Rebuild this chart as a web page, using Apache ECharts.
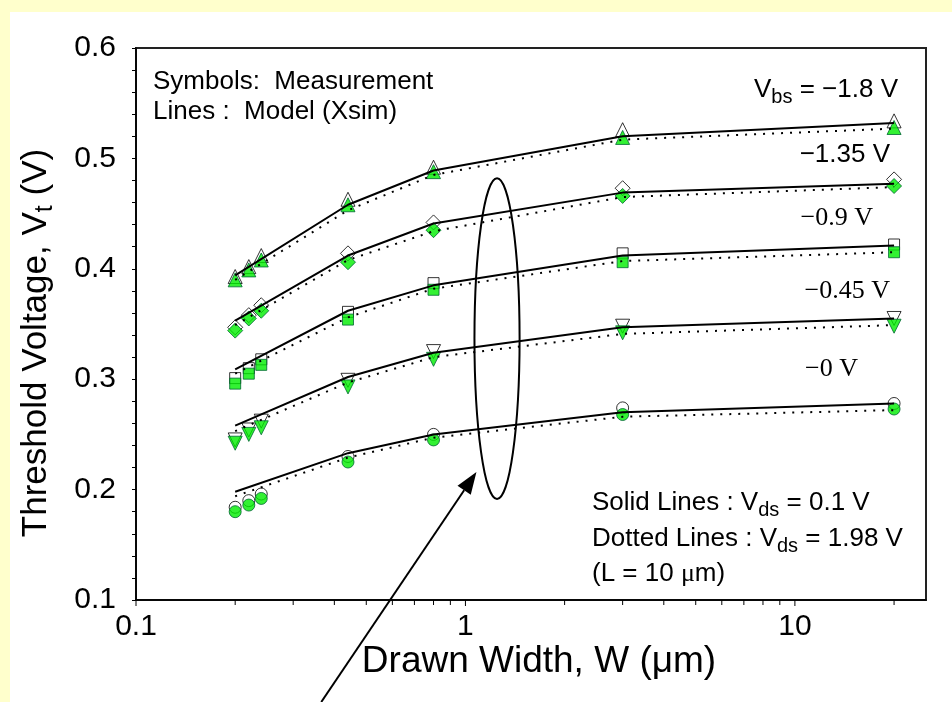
<!DOCTYPE html>
<html><head><meta charset="utf-8">
<script src="https://cdn.jsdelivr.net/npm/echarts@6/dist/echarts.min.js"></script>
<style>html,body{margin:0;padding:0;background:#FFFFCC}#c{width:952px;height:702px}</style>
</head><body><div id="c"></div>
<script>
// ---- data ----
const widths = [0.2, 0.22, 0.24, 0.44, 0.8, 3, 20];
const modelWidths = [0.2, 0.44, 0.8, 3, 20];
const xMajorTicks = [0.1, 1, 10];
const xMinorTicks = [0.2, 0.3, 0.4, 0.5, 0.6, 0.7, 0.8, 0.9, 2, 3, 4, 5, 6, 7, 8, 9, 20];
const yTicks = [0.1, 0.2, 0.3, 0.4, 0.5, 0.6];

// measured Vt, Vds = 0.1 V (open symbols)
const meas18Lo  = [0.393, 0.402, 0.412, 0.463, 0.492, 0.526, 0.534];
const meas135Lo = [0.347, 0.358, 0.367, 0.414, 0.442, 0.473, 0.481];
const meas09Lo  = [0.301, 0.310, 0.318, 0.361, 0.387, 0.414, 0.422];
const meas045Lo = [0.245, 0.254, 0.262, 0.299, 0.325, 0.348, 0.355];
const meas0Lo   = [0.184, 0.190, 0.196, 0.230, 0.250, 0.274, 0.278];
// measured Vt, Vds = 1.98 V (green symbols)
const meas18Hi  = [0.390, 0.399, 0.408, 0.458, 0.488, 0.519, 0.528];
const meas135Hi = [0.344, 0.355, 0.362, 0.406, 0.435, 0.466, 0.475];
const meas09Hi  = [0.296, 0.305, 0.313, 0.354, 0.381, 0.406, 0.415];
const meas045Hi = [0.242, 0.250, 0.256, 0.293, 0.318, 0.342, 0.348];
const meas0Hi   = [0.180, 0.186, 0.192, 0.225, 0.245, 0.268, 0.273];
// model (Xsim), solid: Vds = 0.1 V
const model18Lo  = [0.394, 0.458, 0.489, 0.520, 0.532];
const model135Lo = [0.353, 0.412, 0.441, 0.469, 0.477];
const model09Lo  = [0.309, 0.362, 0.385, 0.412, 0.421];
const model045Lo = [0.258, 0.302, 0.324, 0.347, 0.355];
const model0Lo   = [0.198, 0.233, 0.250, 0.270, 0.278];
// model (Xsim), dotted: Vds = 1.98 V
const model18Hi  = [0.390, 0.453, 0.485, 0.517, 0.527];
const model135Hi = [0.349, 0.408, 0.434, 0.465, 0.474];
const model09Hi  = [0.305, 0.356, 0.382, 0.407, 0.415];
const model045Hi = [0.253, 0.297, 0.320, 0.341, 0.349];
const model0Hi   = [0.194, 0.229, 0.247, 0.266, 0.272];

// annotation anchors in data units (W, Vt)
const ellipseBox = {wLeft: 1.065, wRight: 1.46, vTop: 0.482, vBottom: 0.1915};
const arrowTip = [1.08, 0.2159];
const arrowTail = [0.365, 0.0076];

// ---- chart ----
const SANS = '"Liberation Sans", Arial, sans-serif';
const SERIF = '"Liberation Serif", "Times New Roman", serif';
const GREEN = '#00EE00';
const pair = (xs, ys) => xs.map((x, i) => [x, ys[i]]);

const groups = [
  {lo: meas18Lo,  hi: meas18Hi,  mLo: model18Lo,  mHi: model18Hi,  symbol: 'triangle', size: 14, rot: 0},
  {lo: meas135Lo, hi: meas135Hi, mLo: model135Lo, mHi: model135Hi, symbol: 'diamond',  size: 15, rot: 0},
  {lo: meas09Lo,  hi: meas09Hi,  mLo: model09Lo,  mHi: model09Hi,  symbol: 'rect',     size: 11, rot: 0},
  {lo: meas045Lo, hi: meas045Hi, mLo: model045Lo, mHi: model045Hi, symbol: 'triangle', size: 14, rot: 180},
  {lo: meas0Lo,   hi: meas0Hi,   mLo: model0Lo,   mHi: model0Hi,   symbol: 'circle',   size: 12, rot: 0}
];

const series = [];
groups.forEach(g => {
  series.push({type: 'scatter', data: pair(widths, g.lo), symbol: g.symbol, symbolSize: g.size, symbolRotate: g.rot,
    itemStyle: {color: '#fff', borderColor: '#000', borderWidth: 1}, z: 2, silent: true});
});
groups.forEach(g => {
  series.push({type: 'scatter', data: pair(widths, g.hi), symbol: g.symbol, symbolSize: g.size, symbolRotate: g.rot,
    itemStyle: {color: GREEN, borderColor: '#063', borderWidth: 1}, z: 3, silent: true});
});
groups.forEach(g => {
  series.push({type: 'line', data: pair(modelWidths, g.mLo), showSymbol: false, symbol: 'none',
    lineStyle: {color: '#000', width: 2}, z: 4, silent: true});
  series.push({type: 'line', data: pair(modelWidths, g.mHi), showSymbol: false, symbol: 'none',
    lineStyle: {color: '#000', width: 2, type: [2, 7], cap: 'butt'}, z: 4, silent: true});
});
function tickSeries(vals, len) {
  return {type: 'custom', clip: false, silent: true, z: 5,
    data: vals.map(v => [v, yTicks[0]]),
    renderItem: (params, api) => {
      const p = api.coord([api.value(0), api.value(1)]);
      return {type: 'line', shape: {x1: p[0], y1: p[1], x2: p[0], y2: p[1] + len},
        style: {stroke: '#000', lineWidth: 1}};
    }};
}
series.push(tickSeries(xMajorTicks, 6));
series.push(tickSeries(xMinorTicks, 5));

const chart = echarts.init(document.getElementById('c'), null, {renderer: 'canvas'});
chart.setOption({
  animation: false,
  backgroundColor: '#FFFFCC',
  grid: {left: 136, top: 48, right: 26, bottom: 102, show: true, backgroundColor: '#fff', borderColor: '#222', borderWidth: 2},
  xAxis: {
    type: 'log', logBase: 10, min: 0.1, max: 25,
    axisLine: {lineStyle: {color: '#000', width: 1.5}},
    axisTick: {show: false}, minorTick: {show: false}, splitLine: {show: false},
    axisLabel: {color: '#000', fontSize: 30, fontFamily: SANS, margin: 12, showMaxLabel: false,
      formatter: v => String(v)}
  },
  yAxis: {
    type: 'value', min: 0.1, max: 0.6, interval: 0.1,
    axisLine: {lineStyle: {color: '#000', width: 1.5}},
    axisTick: {show: true, length: 4, lineStyle: {color: '#000'}},
    minorTick: {show: true, splitNumber: 5, length: 4, lineStyle: {color: '#000'}},
    splitLine: {show: false},
    axisLabel: {color: '#000', fontSize: 30, fontFamily: SANS, margin: 20, formatter: v => v.toFixed(1)}
  },
  series: series
});

function txt(x, y, text, opts) {
  return {type: 'text', x: x, y: y, z: 10, silent: true,
    style: Object.assign({text: text, fill: '#000', fontSize: 26, fontFamily: SANS, align: 'left', verticalAlign: 'middle'}, opts || {})};
}
const subRich = {
  n: {fontSize: 26, fontFamily: SANS, color: '#000', lineHeight: 34},
  s: {fontSize: 20, fontFamily: SANS, color: '#000', verticalAlign: 'bottom', lineHeight: 24},
  mu: {fontSize: 26, fontFamily: SERIF, color: '#000', lineHeight: 34}
};
const titleRich = {
  n: {fontSize: 35, fontFamily: SANS, color: '#000', lineHeight: 44},
  s: {fontSize: 25, fontFamily: SANS, color: '#000', verticalAlign: 'bottom', lineHeight: 29}
};

const pTL = chart.convertToPixel({gridIndex: 0}, [ellipseBox.wLeft, ellipseBox.vTop]);
const pBR = chart.convertToPixel({gridIndex: 0}, [ellipseBox.wRight, ellipseBox.vBottom]);
const tip = chart.convertToPixel({gridIndex: 0}, arrowTip);
const tail = chart.convertToPixel({gridIndex: 0}, arrowTail);
const dx = tip[0] - tail[0], dy = tip[1] - tail[1], L = Math.hypot(dx, dy);
const ux = dx / L, uy = dy / L, headLen = 22, headHalf = 8;
const bx = tip[0] - ux * headLen, by = tip[1] - uy * headLen;

chart.setOption({graphic: [
  {type: 'rect', z: -100, silent: true, shape: {x: 10, y: 12, width: 942, height: 690}, style: {fill: '#fff'}},
  {type: 'text', x: 36, y: 343, rotation: Math.PI / 2, z: 10, silent: true,
    style: {text: '{n|Threshold Voltage, V}{s|t}{n| (V)}', rich: titleRich, align: 'center', verticalAlign: 'middle'}},
  txt(539, 662, 'Drawn Width, W (μm)', {align: 'center', fontSize: 37}),
  txt(153, 82, 'Symbols:  Measurement'),
  txt(153, 112, 'Lines :  Model (Xsim)'),
  txt(898, 90, '{n|V}{s|bs}{n| = −1.8 V}', {align: 'right', rich: subRich}),
  txt(890, 155, '−1.35 V', {align: 'right'}),
  txt(873, 218, '−0.9 V', {align: 'right', fontFamily: SERIF}),
  txt(890, 291, '−0.45 V', {align: 'right', fontFamily: SERIF}),
  txt(858, 369, '−0 V', {align: 'right', fontFamily: SERIF}),
  txt(592, 503, '{n|Solid Lines : V}{s|ds}{n| = 0.1 V}', {rich: subRich}),
  txt(592, 539, '{n|Dotted Lines : V}{s|ds}{n| = 1.98 V}', {rich: subRich}),
  txt(592, 574, '{n|(L = 10 }{mu|μ}{n|m)}', {rich: subRich}),
  {type: 'ellipse', z: 10, silent: true,
    shape: {cx: (pTL[0] + pBR[0]) / 2, cy: (pTL[1] + pBR[1]) / 2, rx: (pBR[0] - pTL[0]) / 2, ry: (pBR[1] - pTL[1]) / 2},
    style: {fill: 'none', stroke: '#000', lineWidth: 2}},
  {type: 'line', z: 10, silent: true, shape: {x1: tail[0], y1: tail[1], x2: bx, y2: by},
    style: {stroke: '#000', lineWidth: 2}},
  {type: 'polygon', z: 10, silent: true,
    shape: {points: [tip, [bx - uy * headHalf, by + ux * headHalf], [bx + uy * headHalf, by - ux * headHalf]]},
    style: {fill: '#000'}}
]});
</script></body></html>
